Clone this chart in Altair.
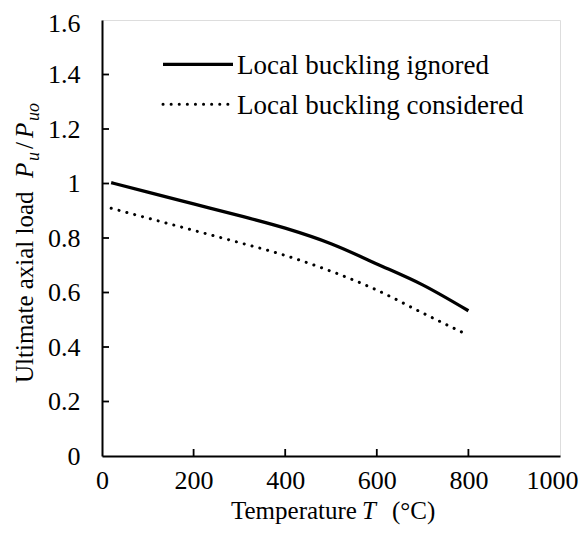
import altair as alt
import pandas as pd

# ---- data ----
temps = [20, 100, 200, 300, 400, 500, 600, 700, 800]
ignored = [1.003, 0.968, 0.925, 0.882, 0.836, 0.779, 0.705, 0.628, 0.533]
considered = [0.909, 0.873, 0.828, 0.783, 0.736, 0.678, 0.609, 0.525, 0.443]
series_names = ["Local buckling ignored", "Local buckling considered"]
x_tick_values = [0, 200, 400, 600, 800, 1000]
y_tick_values = [0, 0.2, 0.4, 0.6, 0.8, 1.0, 1.2, 1.4, 1.6]
x_inner_ticks = [200, 400, 600, 800]
y_inner_ticks = [0.2, 0.4, 0.6, 0.8, 1.0, 1.2, 1.4]

W, H = 458, 436
FONT = "'Liberation Serif', 'Times New Roman', 'DejaVu Serif', serif"
FS = 25
TFS = 26
LFS = 27
DOTS = [0.1, 8]

xs = alt.Scale(domain=[0, 1000], nice=False, zero=False)
ys = alt.Scale(domain=[0, 1.6], nice=False, zero=False)

xaxis = alt.Axis(values=x_tick_values, title=None, grid=False, ticks=False, tickSize=0,
                 labelPadding=32, labelBaseline="alphabetic", labelFlush=False, format="d",
                 labelOffset={"condition": {"test": "datum.value === 1000", "value": -8}, "value": 0},
                 labelOverlap=False, labelBound=False, domainColor="black", domainWidth=2,
                 labelFont=FONT, labelFontSize=TFS, labelColor="black")
yaxis = alt.Axis(values=y_tick_values, title=None, grid=False, ticks=False, tickSize=0,
                 labelPadding=22, format="~g", labelFlush=False,
                 labelOffset={"condition": {"test": "datum.value === 1.6", "value": 3}, "value": 0},
                 labelOverlap=False, labelBound=False, domainColor="black", domainWidth=2,
                 labelFont=FONT, labelFontSize=TFS, labelColor="black")

df_ign = pd.DataFrame({"T": temps, "v": ignored})
df_con = pd.DataFrame({"T": temps, "v": considered})

solid = alt.Chart(df_ign).mark_line(color="black", strokeWidth=3.3, interpolate="monotone").encode(
    x=alt.X("T:Q", scale=xs, axis=xaxis), y=alt.Y("v:Q", scale=ys, axis=yaxis))
dotted = alt.Chart(df_con).mark_line(color="black", strokeWidth=3, strokeDash=DOTS,
                                     strokeCap="round", interpolate="monotone").encode(
    x=alt.X("T:Q", scale=xs, axis=xaxis), y=alt.Y("v:Q", scale=ys, axis=yaxis))

xt = alt.Chart(pd.DataFrame({"T": x_inner_ticks})).mark_rule(color="black", strokeWidth=1.8).encode(
    x=alt.X("T:Q", scale=xs, axis=xaxis), y=alt.value(H), y2=alt.value(H - 7))
yt = alt.Chart(pd.DataFrame({"v": y_inner_ticks})).mark_rule(color="black", strokeWidth=1.8).encode(
    y=alt.Y("v:Q", scale=ys, axis=yaxis), x=alt.value(0), x2=alt.value(7))

one = pd.DataFrame({"a": [0]})

leg_solid = alt.Chart(one).mark_rule(color="black", strokeWidth=3.3).encode(
    x=alt.value(61), x2=alt.value(131), y=alt.value(44.3))
leg_dot = alt.Chart(one).mark_rule(color="black", strokeWidth=3, strokeDash=DOTS, strokeCap="round").encode(
    x=alt.value(61), x2=alt.value(129), y=alt.value(84.3))
leg_t1 = alt.Chart(one).mark_text(text=series_names[0], align="left", baseline="alphabetic",
                                  font=FONT, fontSize=LFS, color="black").encode(
    x=alt.value(135), y=alt.value(54.3))
leg_t2 = alt.Chart(one).mark_text(text=series_names[1], align="left", baseline="alphabetic",
                                  font=FONT, fontSize=LFS, color="black").encode(
    x=alt.value(135), y=alt.value(94.3))


def txt(s, x, y, size=FS, italic=False, angle=0, align="left"):
    kw = dict(text=s, align=align, baseline="alphabetic", font=FONT, fontSize=size, color="black")
    if italic:
        kw["fontStyle"] = "italic"
    if angle:
        kw["angle"] = angle
    return alt.Chart(one).mark_text(**kw).encode(x=alt.value(x), y=alt.value(y))


# x-axis title: "Temperature T (°C)"
XB = 499
xt1 = txt("Temperature", 129, XB)
xt2 = txt("T", 260, XB, italic=True)
xt3 = txt("(°C)", 290, XB)

# y-axis title: "Ultimate  axial load P_u/P_uo"
yx = -69
yt1 = txt("Ultimate  axial load", yx, 363, angle=270)
yt2 = txt("P", yx, 158, italic=True, angle=270)
yt3 = txt("u", yx + 6, 141, size=18, italic=True, angle=270)
yt4 = txt("/", yx, 129, angle=270)
yt5 = txt("P", yx, 118, italic=True, angle=270)
yt6 = txt("uo", yx + 6, 101, size=18, italic=True, angle=270)

chart = alt.layer(
    solid, dotted, xt, yt, leg_solid, leg_dot, leg_t1, leg_t2,
    xt1, xt2, xt3, yt1, yt2, yt3, yt4, yt5, yt6
).properties(
    width=W, height=H,
    autosize=alt.AutoSizeParams(type="none"),
    padding={"left": 94, "top": 12, "right": 20, "bottom": 70},
).configure_view(stroke="black", strokeWidth=1.5).configure(background="white")

chart.save("out.html", embed_options={"renderer": "svg", "actions": False})
